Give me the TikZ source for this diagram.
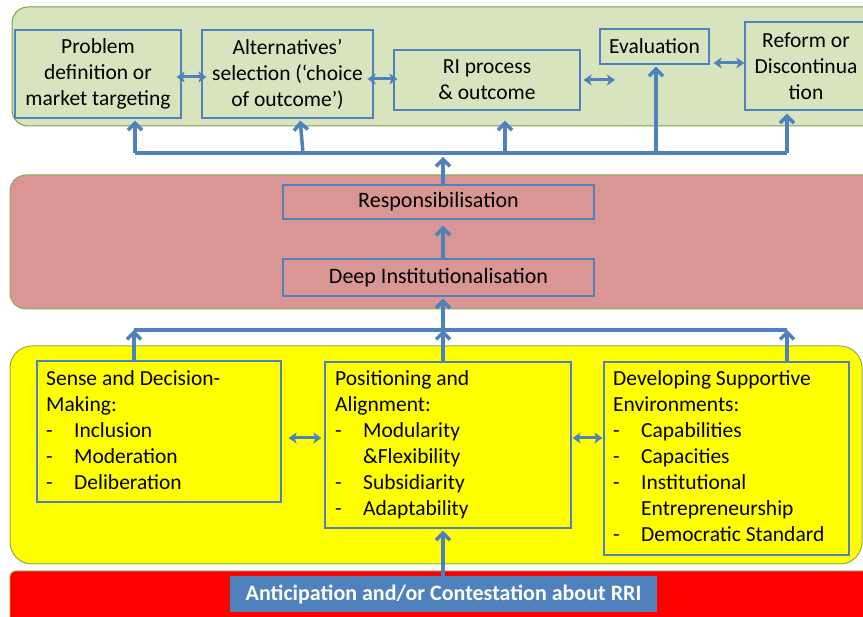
\documentclass[tikz,border=0pt]{standalone}
\usepackage{fontspec}
\setmainfont{Carlito}
\usepackage{array}
\usetikzlibrary{arrows.meta}

\definecolor{linkblue}{HTML}{4F81BD}
\definecolor{panelgreen}{HTML}{D7E4BD}
\definecolor{panelpink}{HTML}{D99694}
\definecolor{panelyellow}{HTML}{FFFF00}
\definecolor{panelred}{HTML}{FF0000}
\definecolor{paneledge}{HTML}{8FAA55}
\definecolor{greenedge}{HTML}{7F9F45}

\newcommand\diagfont{\fontsize{21.5}{26}\selectfont}
\newcommand\midfont{\fontsize{22}{26}\selectfont}

\begin{document}
\begin{tikzpicture}[x=1pt,y=-1pt,
  panel/.style={line width=1pt, rounded corners=16pt},
  box/.style={draw=linkblue, line width=1.2pt, inner sep=0pt, align=center, font=\diagfont},
  listbox/.style={draw=linkblue, line width=1.2pt},
  listtext/.style={inner sep=0pt, anchor=base west, font=\diagfont},
  dbl/.style={linkblue, line width=3pt,
    {Stealth[length=8pt,width=11pt,inset=2pt]}-{Stealth[length=8pt,width=11pt,inset=2pt]}},
  uparrow/.style={linkblue, line width=3.5pt, -{Straight Barb[length=7pt,width=14pt]}},
  bus/.style={linkblue, line width=3.5pt}]

\useasboundingbox (0,0) rectangle (863,617);
\clip (0,0) rectangle (863,617);

% background bands
\filldraw[panel, fill=panelgreen, draw=greenedge] (12,7) rectangle (880,126);
\filldraw[panel, fill=panelpink, draw=paneledge] (10,175) rectangle (880,309);
\filldraw[panel, fill=panelyellow, draw=paneledge, rounded corners=22pt] (10,346) rectangle (862,564);
\filldraw[fill=panelred, draw=paneledge, line width=0.8pt, rounded corners=6pt] (10,571) rectangle (880,625);

% top row: the RI cycle
\node[box, minimum width=166pt, minimum height=88pt] (prob) at (98,74)
  {Problem\\definition or\\market targeting};
\node[box, minimum width=171pt, minimum height=88pt] (alt) at (287.5,74)
  {Alternatives’\\selection (‘choice\\of outcome’)};
\node[box, minimum width=186pt, minimum height=60pt] (ri) at (487,80)
  {RI process\\\& outcome};
\node[box, minimum width=109pt, minimum height=35pt] (eval) at (654.5,46.5)
  {Evaluation};
\node[box, minimum width=122pt, minimum height=88pt] (reform) at (806,66)
  {Reform or\\Discontinua\\tion};

\draw[dbl, shorten <=-5pt, shorten >=-5pt] (prob.east |- 0,77) -- (alt.west |- 0,77);
\draw[dbl, shorten <=-6pt, shorten >=-4pt] (alt.east |- 0,79) -- (ri.west |- 0,79);
\coordinate (riend) at (615,80);
\draw[dbl, shorten <=3pt] (ri.east |- 0,80) -- (riend);
\draw[dbl, shorten <=4pt] (eval.east |- 0,63) -- (reform.west |- 0,63);

% upper distribution bus
\coordinate (b1) at (135,153);
\coordinate (b2) at (303,153);
\coordinate (b3) at (505,153);
\coordinate (b4) at (656,153);
\coordinate (b5) at (787,153);
\draw[bus] (b1) -- (b5);
\draw[uparrow, shorten >=2pt] (b1) -- (prob.south -| b1);
\draw[uparrow, shorten >=2pt] (b2) -- (alt.south -| 300,0);
\draw[uparrow, shorten >=10pt] (b3) -- (ri.south -| b3);
\draw[uparrow, shorten >=2pt] (b4) -- (eval.south -| b4);
\draw[uparrow, shorten >=3pt] (b5) -- (reform.south -| b5);

% middle band
\node[box, font=\midfont, minimum width=311pt, minimum height=34pt] (resp) at (438.5,202)
  {Responsibilisation};
\node[box, font=\midfont, minimum width=311pt, minimum height=37pt] (deep) at (438.5,277.5)
  {Deep Institutionalisation};
\coordinate (top) at (443,157);
\draw[uparrow] (resp.north -| top) -- (top);
\draw[uparrow, shorten >=6pt] (deep.north -| top) -- (resp.south -| top);

% lower collecting bus
\coordinate (m1) at (134,330);
\coordinate (m2) at (443,330);
\coordinate (m3) at (787,330);
\draw[bus] (m1) -- (m3);
\draw[uparrow, shorten >=2pt] (m2) -- (deep.south -| m2);

% yellow band boxes
\node[listbox, minimum width=244pt, minimum height=141pt] (sense) at (159,431.5) {};
\node[listbox, minimum width=246pt, minimum height=166pt] (pos) at (448,445) {};
\node[listbox, minimum width=245pt, minimum height=193pt] (dev) at (726.5,458.5) {};

\node[listtext] (sensetext) at (46,386) {%
  \begin{tabular}[t]{@{}p{28pt}@{}l@{}}
  \multicolumn{2}{@{}l@{}}{Sense and Decision-}\\
  \multicolumn{2}{@{}l@{}}{Making:}\\
  - & Inclusion\\
  - & Moderation\\
  - & Deliberation
  \end{tabular}};
\node[listtext] (postext) at (335,386) {%
  \begin{tabular}[t]{@{}p{28pt}@{}l@{}}
  \multicolumn{2}{@{}l@{}}{Positioning and}\\
  \multicolumn{2}{@{}l@{}}{Alignment:}\\
  - & Modularity\\
    & \&Flexibility\\
  - & Subsidiarity\\
  - & Adaptability
  \end{tabular}};
\node[listtext] (devtext) at (613,386) {%
  \begin{tabular}[t]{@{}p{28pt}@{}l@{}}
  \multicolumn{2}{@{}l@{}}{Developing Supportive}\\
  \multicolumn{2}{@{}l@{}}{Environments:}\\
  - & Capabilities\\
  - & Capacities\\
  - & Institutional\\
    & Entrepreneurship\\
  - & Democratic Standard
  \end{tabular}};

\draw[uparrow] (sense.north -| m1) -- (m1);
\draw[uparrow] (pos.north -| m2) -- (m2);
\draw[uparrow] (dev.north -| m3) -- (m3);

\draw[dbl, shorten <=7pt, shorten >=3pt] (sense.east |- 0,438) -- (pos.west |- 0,438);
\draw[dbl, shorten <=1pt, shorten >=1pt] (pos.east |- 0,438) -- (dev.west |- 0,438);

% base bar
\node[fill=linkblue, text=white, inner sep=0pt, minimum width=427pt, minimum height=36pt,
  font=\fontsize{22}{26}\selectfont\bfseries] (antic) at (443.5,594)
  {Anticipation and/or Contestation about RRI};
\draw[uparrow, shorten >=2pt] (antic.north -| m2) -- (pos.south -| m2);

\end{tikzpicture}
\end{document}
